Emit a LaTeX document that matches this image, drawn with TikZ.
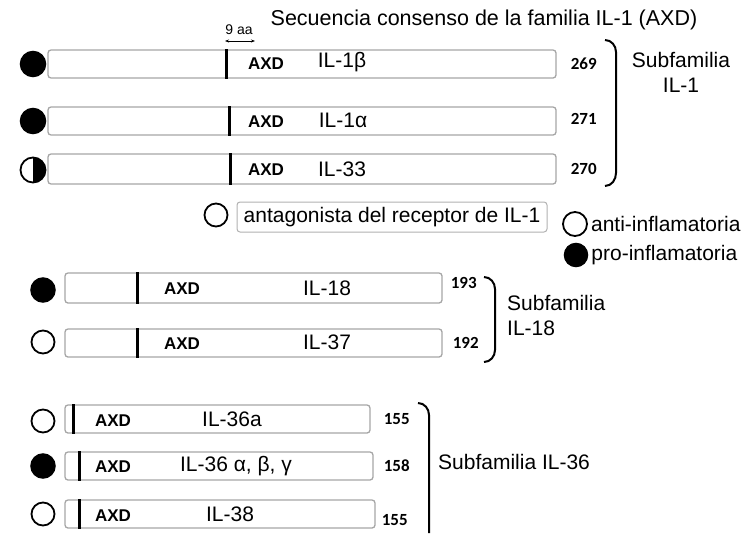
\documentclass[tikz,border=0pt]{standalone}
\usepackage{fontspec}
\setmainfont{Liberation Sans}
\newfontfamily\numfont{Carlito}
\usepackage{tikz}
\usetikzlibrary{arrows.meta, positioning}

\begin{document}
\begin{tikzpicture}[
    x=1pt, y=-1pt,
    protein/.style={draw=gray!70, line width=1.3pt, rounded corners=3pt, fill=white,
                    minimum height=28pt, inner sep=0pt, font=\fontsize{21}{25}\selectfont},
    pro/.style={circle, draw=black, fill=black, line width=1.5pt, minimum size=25pt, inner sep=0pt},
    anti/.style={circle, draw=black, fill=white, line width=1.8pt, minimum size=23pt, inner sep=0pt},
    mixed/.style={anti, minimum size=25pt, path picture={\fill[black] (path picture bounding box.north)
                  rectangle (path picture bounding box.south east);}},
    axd/.style={inner sep=1pt, font=\fontsize{17}{19}\selectfont\bfseries},
    ilname/.style={inner sep=1pt, font=\fontsize{21}{25}\selectfont},
    aalen/.style={inner sep=1pt, font=\numfont\fontsize{17}{19}\selectfont\bfseries},
    axdline/.style={line width=2.5pt},
    famspan/.style={line width=2pt},
]
    \useasboundingbox (0,0) rectangle (749,533);

    % titulo
    \node[ilname, font=\fontsize{21.5}{25}\selectfont] (title) at (484,20) {Secuencia consenso de la familia IL-1 (AXD)};
    \node[inner sep=1pt, font=\fontsize{14}{16}\selectfont] (nine) at (239,30) {9 aa};
    \coordinate (aa-l) at (225,41);
    \coordinate (aa-r) at (255,41);
    \draw[{Stealth[length=4pt]}-{Stealth[length=4pt]}, line width=0.8pt] (aa-l) -- (aa-r);

    % subfamilia IL-1
    \node[protein, minimum width=508pt] (il1b) at (302,64) {};
    \node[protein, minimum width=508pt] (il1a) at (302,121) {};
    \node[protein, minimum width=508pt, minimum height=30pt] (il33) at (302,169) {};
    \draw[axdline] ([xshift=179pt]il1b.north west) -- ([xshift=179pt]il1b.south west);
    \draw[axdline] ([xshift=182pt]il1a.north west) -- ([xshift=182pt]il1a.south west);
    \draw[axdline] ([xshift=183pt]il33.north west) -- ([xshift=183pt]il33.south west);
    \node[axd] (axd1) at (266,64) {AXD};
    \node[axd] (axd2) at (266,122) {AXD};
    \node[axd] (axd3) at (266,170) {AXD};
    \node[ilname] (n1b) at (342,62) {IL-1β};
    \node[ilname] (n1a) at (343,120) {IL-1α};
    \node[ilname] (n33) at (342,169) {IL-33};
    \node[pro] (c1b) at (33,64) {};
    \node[pro] (c1a) at (33,121) {};
    \node[mixed] (c33) at (33,170) {};
    \node[aalen, right=13pt of il1b] (l1b) {269};
    \node[aalen, right=13pt of il1a, yshift=2pt] (l1a) {271};
    \node[aalen, right=13pt of il33] (l33) {270};
    \draw[famspan] (605,40) to[out=0, in=90] (616,52) -- (616,173) to[out=-90, in=0] (605,186);
    \node[ilname, align=center] (sf1) at (681,72) {Subfamilia\\IL-1};

    % antagonista
    \node[anti] (cra) at (216,215) {};
    \node[protein, minimum width=310pt, minimum height=30pt, draw=gray!60, line width=1pt] (ilra) at (392,217)
        {antagonista del receptor de IL-1};

    % leyenda
    \node[anti, minimum size=24pt] (lanti) at (575,224) {};
    \node[ilname, right=2pt of lanti] (tanti) {anti-inflamatoria};
    \node[pro, minimum size=23pt] (lpro) at (576,255) {};
    \node[ilname, right=2pt of lpro] (tpro) {pro-inflamatoria};

    % subfamilia IL-18
    \node[protein, minimum width=377pt, minimum height=30pt] (il18) at (253.5,288) {};
    \node[protein, minimum width=377pt] (il37) at (253.5,343) {};
    \draw[axdline] ([xshift=73pt]il18.north west) -- ([xshift=73pt]il18.south west);
    \draw[axdline] ([xshift=73pt]il37.north west) -- ([xshift=73pt]il37.south west);
    \node[axd] (axd18) at (182,289) {AXD};
    \node[axd] (axd37) at (182,344) {AXD};
    \node[ilname] (n18) at (327,288) {IL-18};
    \node[ilname] (n37) at (327,342) {IL-37};
    \node[pro, minimum size=24pt] (c18) at (43,290) {};
    \node[anti] (c37) at (43,342) {};
    \node[aalen, right=7pt of il18, yshift=5pt] (l18) {193};
    \node[aalen, right=9pt of il37] (l37) {192};
    \draw[famspan] (484,277) to[out=0, in=90] (495,289) -- (495,350) to[out=-90, in=0] (484,362);
    \node[ilname, align=left, anchor=west] (sf18) at (506,315) {Subfamilia\\IL-18};

    % subfamilia IL-36
    \node[protein, minimum width=305pt] (il36a) at (217.5,419) {};
    \node[protein, minimum width=308pt] (il36) at (219,466) {};
    \node[protein, minimum width=310pt] (il38) at (220,514) {};
    \draw[axdline] ([xshift=9pt]il36a.north west) -- ([xshift=9pt]il36a.south west);
    \draw[axdline] ([xshift=15pt]il36.north west) -- ([xshift=15pt]il36.south west);
    \draw[axdline] ([xshift=15pt]il38.north west) -- ([xshift=15pt]il38.south west);
    \node[axd] (axd36a) at (113,421) {AXD};
    \node[axd] (axd36) at (113,467) {AXD};
    \node[axd] (axd38) at (113,516) {AXD};
    \node[ilname] (n36a) at (232,419) {IL-36a};
    \node[ilname] (n36) at (236,466) {IL-36 α, β, γ};
    \node[ilname] (n38) at (230,514) {IL-38};
    \node[anti] (c36a) at (43,421) {};
    \node[pro, minimum size=24pt] (c36) at (43,466) {};
    \node[anti] (c38) at (43,514) {};
    \node[aalen, right=12pt of il36a] (l36a) {155};
    \node[aalen, right=9pt of il36] (l36) {158};
    \node[aalen, right=5pt of il38, yshift=-6pt] (l38) {155};
    \draw[famspan] (418,403) to[out=0, in=90] (429,415) -- (429,533);
    \node[ilname, anchor=west] (sf36) at (437,462) {Subfamilia IL-36};
\end{tikzpicture}
\end{document}
